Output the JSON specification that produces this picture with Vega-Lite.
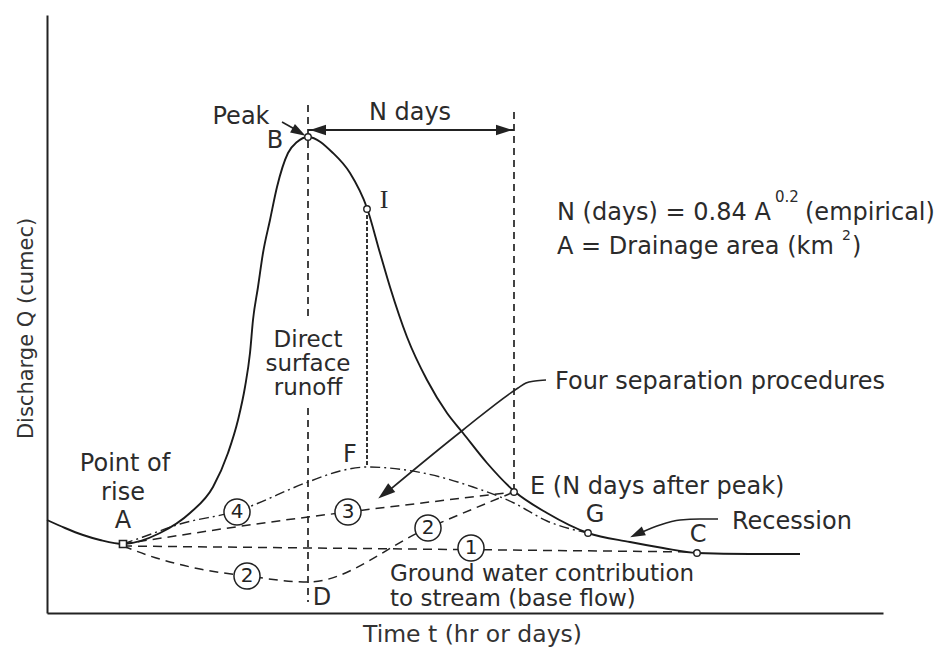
{
  "$schema": "https://vega.github.io/schema/vega-lite/v6.json",
  "width": 836,
  "height": 598,
  "autosize": {"type": "none"},
  "padding": {"left": 47, "top": 15, "right": 57, "bottom": 39},
  "background": "white",
  "config": {"view": {"stroke": null}},
  "datasets": {
    "curve": [
      {"t":0,"q":93},{"t":18,"q":85},{"t":36,"q":78},{"t":53,"q":73},{"t":76,"q":69},
      {"t":113,"q":80},{"t":143,"q":100},{"t":166,"q":126},{"t":181,"q":160},{"t":191,"q":193},
      {"t":198,"q":226},{"t":203,"q":260},{"t":206,"q":293},{"t":211,"q":326},{"t":216,"q":360},
      {"t":223,"q":393},{"t":230,"q":426},{"t":241,"q":460},{"t":250,"q":471},{"t":261,"q":476},
      {"t":286,"q":460},{"t":303,"q":440},{"t":320,"q":405},{"t":333,"q":360},{"t":343,"q":326},
      {"t":360,"q":276},{"t":380,"q":233},{"t":400,"q":200},{"t":416,"q":180},{"t":440,"q":150},
      {"t":467,"q":122},{"t":500,"q":100},{"t":541,"q":80},{"t":583,"q":71},{"t":616,"q":65},
      {"t":650,"q":60},{"t":703,"q":59},{"t":753,"q":59}
    ],
    "markers": [{"t":261,"q":476},{"t":320,"q":404},{"t":467,"q":121},{"t":541,"q":80},{"t":650,"q":60}],
    "markerA": [{"t":76,"q":69}],
    "vlong": [{"t":261,"q":508,"q2":295},{"t":261,"q":205,"q2":11},{"t":467,"q":501,"q2":123}],
    "vshort": [{"t":320,"q":398,"q2":147}],
    "ndays": [{"t":261,"t2":467,"q":483}],
    "sep": [
      {"line":"1","t":76,"q":67},{"line":"1","t":650,"q":61},
      {"line":"2","t":76,"q":67},{"line":"2","t":103,"q":57},{"line":"2","t":153,"q":44},{"line":"2","t":200,"q":37},{"line":"2","t":261,"q":31},{"line":"2","t":381,"q":85},{"line":"2","t":467,"q":121},
      {"line":"3","t":76,"q":69},{"line":"3","t":261,"q":96},{"line":"3","t":301,"q":101},{"line":"3","t":467,"q":121}
    ],
    "sep4": [
      {"t":76,"q":69},{"t":96,"q":76},{"t":133,"q":89},{"t":190,"q":102},{"t":261,"q":131},{"t":293,"q":142},
      {"t":320,"q":146},{"t":376,"q":140},{"t":426,"q":126},{"t":467,"q":110},{"t":500,"q":92},{"t":541,"q":80}
    ],
    "peakLeader": [{"t":235,"q":491},{"t":252,"q":481.5}],
    "fourLeader": [{"t":339,"q":120},{"t":416,"q":183},{"t":471,"q":225},{"t":479,"q":230},{"t":488,"q":232},{"t":499,"q":233}],
    "recLeader": [{"t":593,"q":80},{"t":613,"q":88},{"t":633,"q":93},{"t":653,"q":94},{"t":671,"q":94}],
    "arrowL": [{"t":271,"q":483}],
    "arrowR": [{"t":457,"q":483}],
    "arrowPeak": [{"t":252,"q":481}],
    "arrowFour": [{"t":338,"q":120}],
    "arrowRec": [{"t":590,"q":79}],
    "circ": [
      {"t":190,"q":101,"label":"4"},{"t":200,"q":37,"label":"2"},{"t":301,"q":101,"label":"3"},
      {"t":381,"q":85,"label":"2"},{"t":424,"q":65,"label":"1"}
    ],
    "labC": [
      {"t":194,"q":496,"label":"Peak"},{"t":228,"q":472,"label":"B"},{"t":363,"q":500,"label":"N days"},
      {"t":303,"q":158,"label":"F"},{"t":78,"q":149,"label":"Point of"},{"t":76,"q":120,"label":"rise"},
      {"t":76,"q":92,"label":"A"},{"t":548,"q":98,"label":"G"},{"t":651,"q":78,"label":"C"},{"t":275,"q":15,"label":"D"}
    ],
    "labDSR": [
      {"t":261,"q":273,"label":"Direct"},{"t":261,"q":249,"label":"surface"},{"t":261,"q":225,"label":"runoff"}
    ],
    "labL": [
      {"t":508,"q":231,"label":"Four separation procedures"},
      {"t":483,"q":126,"label":"E (N days after peak)"},
      {"t":685,"q":91,"label":"Recession"}
    ],
    "labGW": [
      {"t":343,"q":39,"label":"Ground water contribution"},
      {"t":343,"q":14,"label":"to stream (base flow)"}
    ],
    "formula": [
      {"t":510,"q":393,"label":"N (days) = 0.84 A"},
      {"t":758,"q":393,"label":"(empirical)"},
      {"t":510,"q":359,"label":"A = Drainage area (km"},
      {"t":805,"q":359,"label":")"}
    ],
    "sup": [{"t":728,"q":411,"label":"0.2"}],
    "sup2": [{"t":795,"q":373,"label":"2"}],
    "labI": [{"t":337,"q":413,"label":"I"}]
  },
  "encoding": {
    "x": {"field": "t", "type": "quantitative", "scale": {"domain": [0, 836], "nice": false, "zero": false},
      "axis": {"title": "Time t (hr or days)", "domain": true, "domainColor": "#222", "domainWidth": 2, "ticks": false, "labels": false, "grid": false,
        "titleFont": "DejaVu Sans", "titleFontSize": 23.5, "titleFontWeight": "normal", "titleColor": "#333", "titlePadding": 28, "titleBaseline": "alphabetic", "titleX": 425}},
    "y": {"field": "q", "type": "quantitative", "scale": {"domain": [0, 598], "nice": false, "zero": false},
      "axis": {"title": "Discharge Q (cumec)", "domain": true, "domainColor": "#222", "domainWidth": 2, "ticks": false, "labels": false, "grid": false,
        "titleFont": "DejaVu Sans", "titleFontSize": 21, "titleFontWeight": "normal", "titleColor": "#333", "titlePadding": 15, "titleBaseline": "alphabetic", "titleY": 313}}
  },
  "layer": [
    {"data": {"name": "sep"}, "mark": {"type": "line", "interpolate": "monotone", "strokeDash": [9, 6], "strokeWidth": 1.5, "color": "#222"},
      "encoding": {"detail": {"field": "line", "type": "nominal"}}},
    {"data": {"name": "sep4"}, "mark": {"type": "line", "interpolate": "monotone", "strokeDash": [10, 4, 2, 4], "strokeWidth": 1.4, "color": "#222"}, "encoding": {}},
    {"data": {"name": "vlong"}, "mark": {"type": "rule", "strokeDash": [7, 5], "strokeWidth": 1.7, "color": "#222"},
      "encoding": {"y2": {"field": "q2"}}},
    {"data": {"name": "vshort"}, "mark": {"type": "rule", "strokeDash": [4, 2], "strokeWidth": 2, "color": "#333"},
      "encoding": {"y2": {"field": "q2"}}},
    {"data": {"name": "curve"}, "mark": {"type": "line", "interpolate": "monotone", "strokeWidth": 1.9, "color": "#1a1a1a"}, "encoding": {}},
    {"data": {"name": "ndays"}, "mark": {"type": "rule", "strokeWidth": 1.8, "color": "#222"},
      "encoding": {"x2": {"field": "t2"}}},
    {"data": {"name": "peakLeader"}, "mark": {"type": "line", "strokeWidth": 1.6, "color": "#222"}, "encoding": {}},
    {"data": {"name": "fourLeader"}, "mark": {"type": "line", "interpolate": "monotone", "strokeWidth": 1.6, "color": "#222"}, "encoding": {}},
    {"data": {"name": "recLeader"}, "mark": {"type": "line", "interpolate": "monotone", "strokeWidth": 1.6, "color": "#222"}, "encoding": {}},
    {"data": {"name": "arrowL"}, "mark": {"type": "point", "shape": "M1,0L-1,-0.65L-1,0.65Z", "filled": true, "color": "#222", "opacity": 1, "size": 256, "angle": 180}},
    {"data": {"name": "arrowR"}, "mark": {"type": "point", "shape": "M1,0L-1,-0.65L-1,0.65Z", "filled": true, "color": "#222", "opacity": 1, "size": 256, "angle": 0}},
    {"data": {"name": "arrowPeak"}, "mark": {"type": "point", "shape": "M1,0L-1,-0.65L-1,0.65Z", "filled": true, "color": "#222", "opacity": 1, "size": 225, "angle": 30}},
    {"data": {"name": "arrowFour"}, "mark": {"type": "point", "shape": "M1,0L-1,-0.65L-1,0.65Z", "filled": true, "color": "#222", "opacity": 1, "size": 300, "angle": 141}},
    {"data": {"name": "arrowRec"}, "mark": {"type": "point", "shape": "M1,0L-1,-0.65L-1,0.65Z", "filled": true, "color": "#222", "opacity": 1, "size": 225, "angle": 155}},
    {"data": {"name": "markers"}, "mark": {"type": "point", "shape": "circle", "filled": true, "fill": "white", "stroke": "#222", "strokeWidth": 1.4, "size": 42, "opacity": 1}},
    {"data": {"name": "markerA"}, "mark": {"type": "point", "shape": "square", "filled": true, "fill": "white", "stroke": "#222", "strokeWidth": 1.6, "size": 50, "opacity": 1}},
    {"data": {"name": "circ"}, "mark": {"type": "point", "shape": "circle", "filled": true, "fill": "white", "stroke": "#222", "strokeWidth": 1.5, "size": 680, "opacity": 1}},
    {"data": {"name": "circ"}, "mark": {"type": "text", "font": "DejaVu Sans", "fontSize": 20, "align": "center", "baseline": "middle", "color": "#222"},
      "encoding": {"text": {"field": "label"}}},
    {"data": {"name": "labC"}, "mark": {"type": "text", "font": "DejaVu Sans", "fontSize": 24, "align": "center", "baseline": "middle", "color": "#2b2b2b"},
      "encoding": {"text": {"field": "label"}}},
    {"data": {"name": "labDSR"}, "mark": {"type": "text", "font": "DejaVu Sans", "fontSize": 23, "align": "center", "baseline": "middle", "color": "#2b2b2b"},
      "encoding": {"text": {"field": "label"}}},
    {"data": {"name": "labL"}, "mark": {"type": "text", "font": "DejaVu Sans", "fontSize": 24, "align": "left", "baseline": "middle", "color": "#2b2b2b"},
      "encoding": {"text": {"field": "label"}}},
    {"data": {"name": "labGW"}, "mark": {"type": "text", "font": "DejaVu Sans", "fontSize": 23, "align": "left", "baseline": "middle", "color": "#2b2b2b"},
      "encoding": {"text": {"field": "label"}}},
    {"data": {"name": "formula"}, "mark": {"type": "text", "font": "DejaVu Sans", "fontSize": 24, "align": "left", "baseline": "alphabetic", "color": "#2b2b2b"},
      "encoding": {"text": {"field": "label"}}},
    {"data": {"name": "sup"}, "mark": {"type": "text", "font": "DejaVu Sans", "fontSize": 15, "align": "left", "baseline": "alphabetic", "color": "#2b2b2b"},
      "encoding": {"text": {"field": "label"}}},
    {"data": {"name": "sup2"}, "mark": {"type": "text", "font": "DejaVu Sans", "fontSize": 14, "align": "left", "baseline": "alphabetic", "color": "#2b2b2b"},
      "encoding": {"text": {"field": "label"}}},
    {"data": {"name": "labI"}, "mark": {"type": "text", "font": "Liberation Serif", "fontSize": 26, "align": "center", "baseline": "middle", "color": "#2b2b2b"},
      "encoding": {"text": {"field": "label"}}}
  ]
}
